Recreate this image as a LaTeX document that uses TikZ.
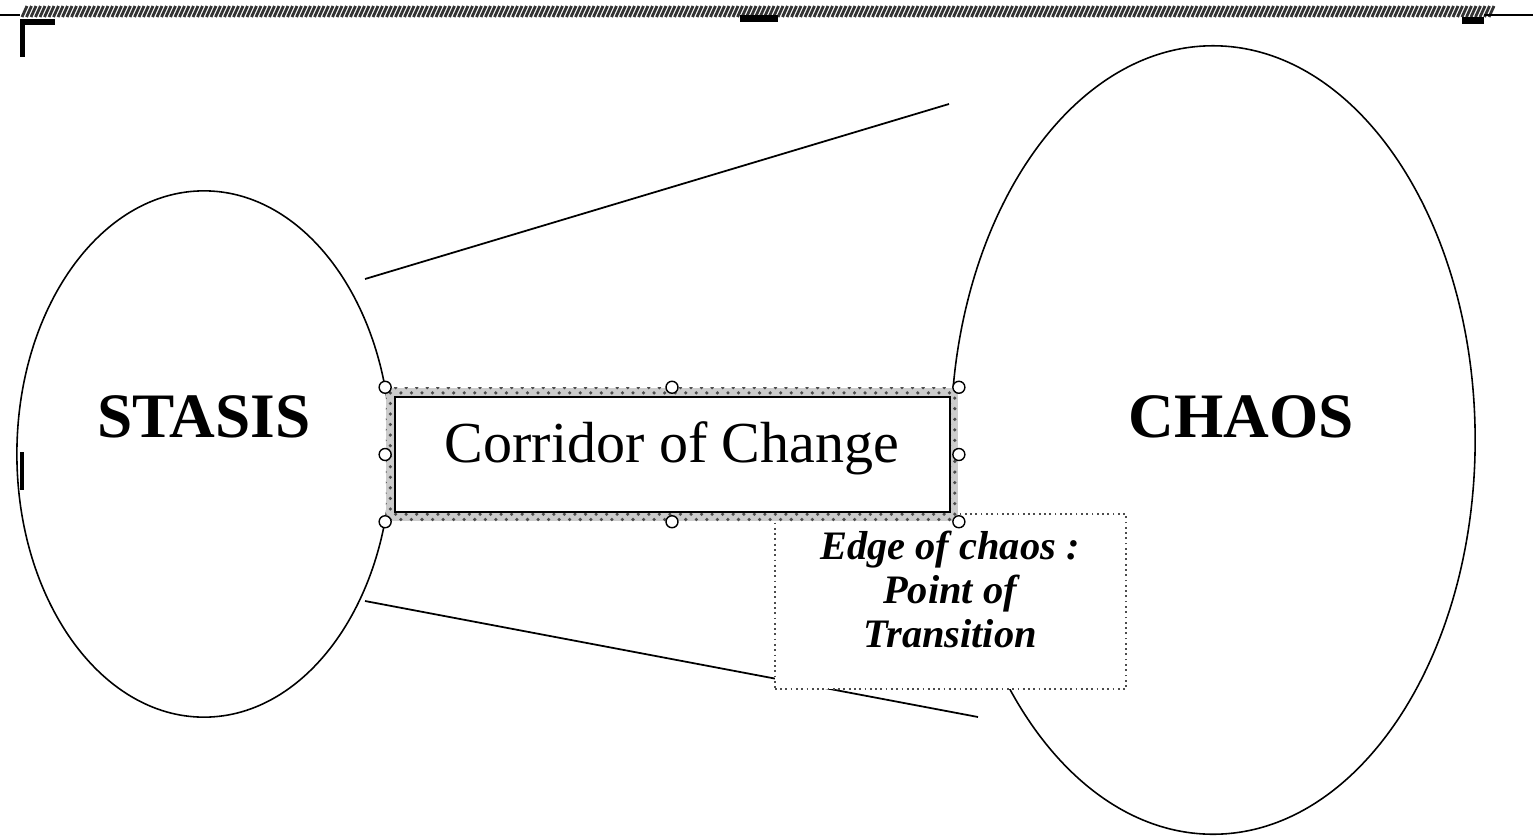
\documentclass[tikz,border=0pt]{standalone}
\usepackage{fontspec}
\setmainfont{Liberation Serif}
\usetikzlibrary{shapes.geometric,patterns}
\begin{document}
\begin{tikzpicture}[x=0.01cm,y=-0.01cm,
  oval/.style={draw, ellipse, inner sep=0, line width=0.45pt},
  handle/.style={circle, draw, fill=white, inner sep=0, minimum size=0.12cm, line width=0.4pt},
  bigword/.style={font=\fontsize{18}{22}\selectfont\bfseries, inner sep=0, anchor=base},
  ruleline/.style={line width=0.5pt},
  hatch/.style={line width=0.8pt, gray!40!black},
  blackmark/.style={fill=black}]
\useasboundingbox (0,0) rectangle (1533,836);
% ellipses
\node[oval, minimum width=3.74cm, minimum height=5.26cm] (stasis) at (204,454) {};
\node[oval, minimum width=5.24cm, minimum height=7.88cm] (chaos) at (1213,440) {};
% perspective lines
\coordinate (t1) at (365,279);
\coordinate (t2) at (949,104);
\coordinate (b1) at (365,601);
\coordinate (b2) at (978,717);
\draw[ruleline] (t1) -- (t2);
\draw[ruleline] (b1) -- (b2);
% edge of chaos box
\node[draw=gray!60!black, densely dotted, fill=white, line width=0.5pt, minimum width=3.51cm, minimum height=1.75cm, inner sep=0] (edgebox) at (950.5,601.5) {};
\node[font=\fontsize{11.5}{12.5}\selectfont\bfseries\itshape, align=center, anchor=base, inner sep=0] (edgetext) at (950,647) {Edge of chaos :\\ Point of\\ Transition};
% corridor selection frame
\node[preaction={fill=gray!40}, pattern=crosshatch dots, pattern color=gray!60!black, minimum width=5.72cm, minimum height=1.33cm, inner sep=0] (frame) at (672,454.5) {};
\node[draw, fill=white, minimum width=5.55cm, minimum height=1.15cm, inner sep=0, line width=0.5pt] (corridor) at (672.5,454.5) {};
\node[font=\fontsize{16.5}{20}\selectfont, anchor=base, inner sep=0] (corridortext) at (672,462) {Corridor of Change};
\foreach \a in {north west,north,north east,west,east,south west,south,south east}
  \node[handle] at (frame.\a) {};
% big words
\node[bigword] (stasistext) at (204,437) {STASIS};
\node[bigword] (chaostext) at (1241,437) {CHAOS};
% top ruler band
\foreach \i in {0,...,326}
  \draw[hatch] ({22+4.5*\i},17) -- ++(5,-11);
\draw[line width=0.6pt] (0,15) -- (20,15);
\draw[line width=0.6pt] (1484,15) -- (1533,15);
\fill[blackmark] (20,19) rectangle (55,25);
\fill[blackmark] (20,19) rectangle (25,57);
\fill[blackmark] (740,15) rectangle (778,22);
\fill[blackmark] (1462,17) rectangle (1484,24);
\fill[blackmark] (20,452) rectangle (24,490);
\end{tikzpicture}
\end{document}
